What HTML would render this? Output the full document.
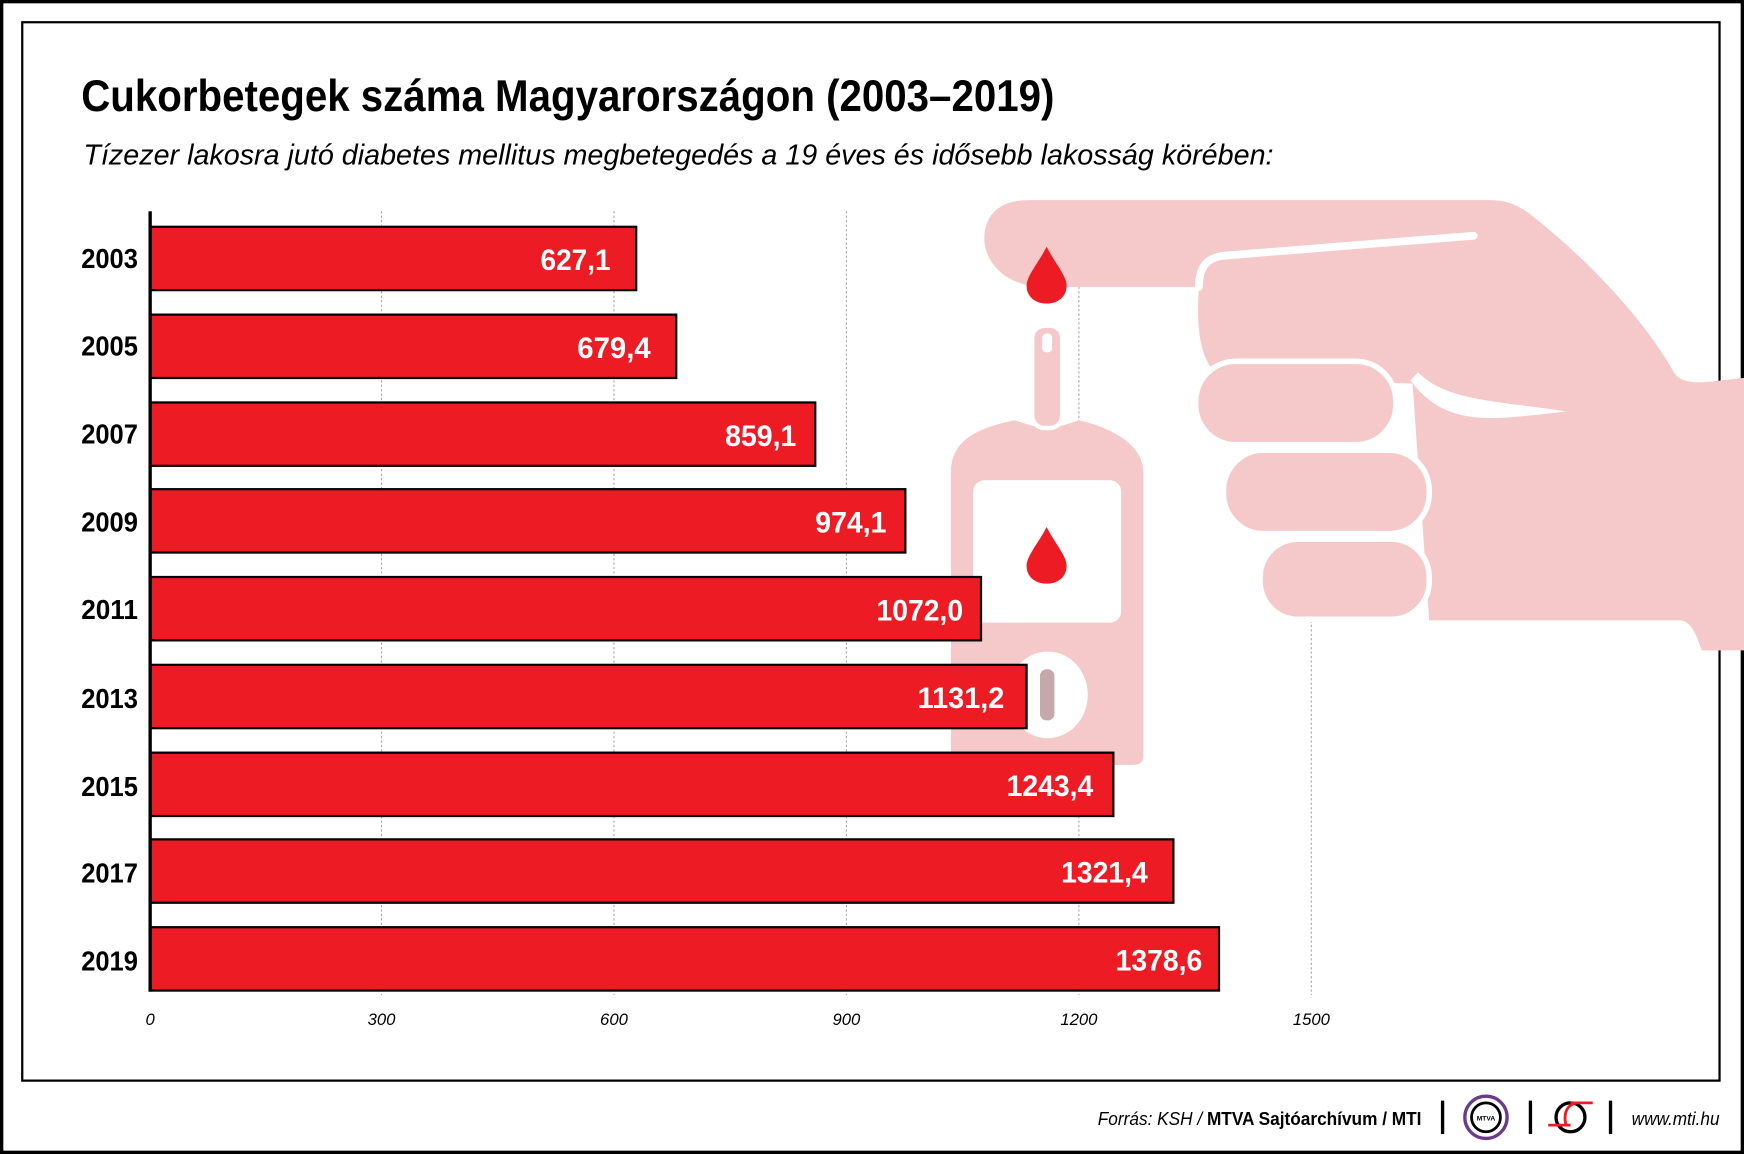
<!DOCTYPE html>
<html><head><meta charset="utf-8"><style>html,body{margin:0;padding:0;background:#fff}svg{display:block}</style></head>
<body>
<svg width="1744" height="1154" viewBox="0 0 1568 1038" preserveAspectRatio="none" xmlns="http://www.w3.org/2000/svg" font-family="Liberation Sans, sans-serif">
<rect x="0" y="0" width="1568" height="1038" fill="#fff"/>
<rect x="1.5" y="1.5" width="1565" height="1035" fill="none" stroke="#000" stroke-width="3"/>
<rect x="20" y="20" width="1526" height="952" fill="none" stroke="#000" stroke-width="2"/>
<text x="73" y="100" font-size="40" font-weight="bold" textLength="875" lengthAdjust="spacingAndGlyphs">Cukorbetegek száma Magyarországon (2003–2019)</text>
<text x="75" y="148" font-size="26" font-style="italic" textLength="1070" lengthAdjust="spacingAndGlyphs">Tízezer lakosra jutó diabetes mellitus megbetegedés a 19 éves és idősebb lakosság körében:</text>
<g stroke="#aaa" stroke-width="1" stroke-dasharray="2,2">
<line x1="343" y1="190" x2="343" y2="895"/><line x1="552" y1="190" x2="552" y2="895"/><line x1="761" y1="190" x2="761" y2="895"/><line x1="970" y1="190" x2="970" y2="895"/><line x1="1179" y1="190" x2="1179" y2="895"/>
</g>
<!-- hand -->
<g fill="#f5c8c9">
<path d="M925,180 L1340,180 C1355,180 1365,185 1375,192 C1430,235 1480,290 1505,335 C1515,350 1540,342 1568,340 L1568,585 L1530,585 C1525,570 1520,558 1510,558 L1285,558 L1270,345 L1100,340 C1080,330 1075,300 1078,258 L940,258 C900,258 885,232 885,215 C885,192 900,180 925,180 Z"/>
<path d="M1078,258 C1078,240 1085,232 1100,230 L1325,212" fill="none" stroke="#fff" stroke-width="7" stroke-linecap="round"/>
<path d="M1268,342 C1300,385 1340,378 1408,370 C1340,360 1300,360 1275,335 Z" fill="#fff"/>
<rect x="1075" y="325" width="180" height="75" rx="36" stroke="#fff" stroke-width="5"/>
<rect x="1100" y="405" width="185" height="75" rx="36" stroke="#fff" stroke-width="5"/>
<rect x="1133" y="485" width="152" height="72" rx="34" stroke="#fff" stroke-width="5"/>
<path d="M855,425 C855,395 880,385 912,378 L928,383 L955,383 L970,378 C1000,385 1028,400 1028,425 L1028,680 C1028,686 1024,688 1018,688 L865,688 C858,688 855,684 855,678 Z"/>
<rect x="928" y="293" width="27" height="92" rx="11" stroke="#fff" stroke-width="4"/>
</g>
<rect x="937" y="300" width="9" height="17" rx="4" fill="#fff"/>
<rect x="875" y="432" width="133" height="128" rx="10" fill="#fff"/>
<ellipse cx="942" cy="625" rx="36" ry="39" fill="#fff"/>
<rect x="935" y="602" width="13" height="46" rx="6" fill="#c4a8ab"/>
<path d="M941,222 C948,236 959,248 959,257 C959,267 951,273 941,273 C931,273 923,267 923,257 C923,248 934,236 941,222 Z" fill="#ed1c24"/>
<path d="M941,474 C948,488 959,500 959,509 C959,519 951,525 941,525 C931,525 923,519 923,509 C923,500 934,488 941,474 Z" fill="#ed1c24"/>
<!-- bars -->
<g stroke="#000" stroke-width="2" fill="#ed1c24">
<rect x="135" y="204" width="437" height="57"/>
<rect x="135" y="283" width="473" height="57"/>
<rect x="135" y="362" width="598" height="57"/>
<rect x="135" y="440" width="679" height="57"/>
<rect x="135" y="519" width="747" height="57"/>
<rect x="135" y="598" width="788" height="57"/>
<rect x="135" y="677" width="866" height="57"/>
<rect x="135" y="755" width="920" height="57"/>
<rect x="135" y="834" width="961" height="57"/>
</g>
<line x1="135" y1="190" x2="135" y2="892" stroke="#000" stroke-width="3"/>
<g fill="#fff" font-size="27" font-weight="bold" text-anchor="end">
<text x="549" y="243" textLength="63" lengthAdjust="spacingAndGlyphs">627,1</text>
<text x="585" y="322" textLength="66" lengthAdjust="spacingAndGlyphs">679,4</text>
<text x="716" y="401" textLength="64" lengthAdjust="spacingAndGlyphs">859,1</text>
<text x="797" y="479" textLength="64" lengthAdjust="spacingAndGlyphs">974,1</text>
<text x="866" y="558" textLength="78" lengthAdjust="spacingAndGlyphs">1072,0</text>
<text x="903" y="637" textLength="78" lengthAdjust="spacingAndGlyphs">1131,2</text>
<text x="983" y="716" textLength="78" lengthAdjust="spacingAndGlyphs">1243,4</text>
<text x="1032" y="794" textLength="78" lengthAdjust="spacingAndGlyphs">1321,4</text>
<text x="1081" y="873" textLength="78" lengthAdjust="spacingAndGlyphs">1378,6</text>
</g>
<g fill="#000" font-size="25" font-weight="bold">
<text x="73" y="241" textLength="51" lengthAdjust="spacingAndGlyphs">2003</text>
<text x="73" y="320" textLength="51" lengthAdjust="spacingAndGlyphs">2005</text>
<text x="73" y="399" textLength="51" lengthAdjust="spacingAndGlyphs">2007</text>
<text x="73" y="478" textLength="51" lengthAdjust="spacingAndGlyphs">2009</text>
<text x="73" y="557" textLength="51" lengthAdjust="spacingAndGlyphs">2011</text>
<text x="73" y="637" textLength="51" lengthAdjust="spacingAndGlyphs">2013</text>
<text x="73" y="716" textLength="51" lengthAdjust="spacingAndGlyphs">2015</text>
<text x="73" y="794" textLength="51" lengthAdjust="spacingAndGlyphs">2017</text>
<text x="73" y="873" textLength="51" lengthAdjust="spacingAndGlyphs">2019</text>
</g>
<g font-size="15" font-style="italic" text-anchor="middle">
<text x="135" y="922">0</text><text x="343" y="922">300</text><text x="552" y="922">600</text><text x="761" y="922">900</text><text x="970" y="922">1200</text><text x="1179" y="922">1500</text>
</g>
<text x="987" y="1012" font-size="17" textLength="291" lengthAdjust="spacingAndGlyphs"><tspan font-style="italic">Forrás: KSH / </tspan><tspan font-weight="bold">MTVA Sajtóarchívum / MTI</tspan></text>
<g stroke="#000" stroke-width="3">
<line x1="1297" y1="990" x2="1297" y2="1020"/><line x1="1376" y1="990" x2="1376" y2="1020"/><line x1="1448" y1="990" x2="1448" y2="1020"/>
</g>
<circle cx="1336" cy="1005" r="19" fill="none" stroke="#6a3b8a" stroke-width="3"/>
<circle cx="1336" cy="1005" r="13" fill="#fff" stroke="#000" stroke-width="2.5"/>
<text x="1336" y="1008" font-size="6" font-weight="bold" text-anchor="middle">MTVA</text>
<circle cx="1412" cy="1005" r="13" fill="none" stroke="#000" stroke-width="3"/>
<path d="M1392,1012 L1412,1012 M1412,992 L1432,992 M1408,1012 C1405,1000 1410,993 1418,992" stroke="#ed1c24" stroke-width="2.5" fill="none"/>
<text x="1467" y="1012" font-size="17" font-style="italic" textLength="79" lengthAdjust="spacingAndGlyphs">www.mti.hu</text>
</svg>
</body></html>
